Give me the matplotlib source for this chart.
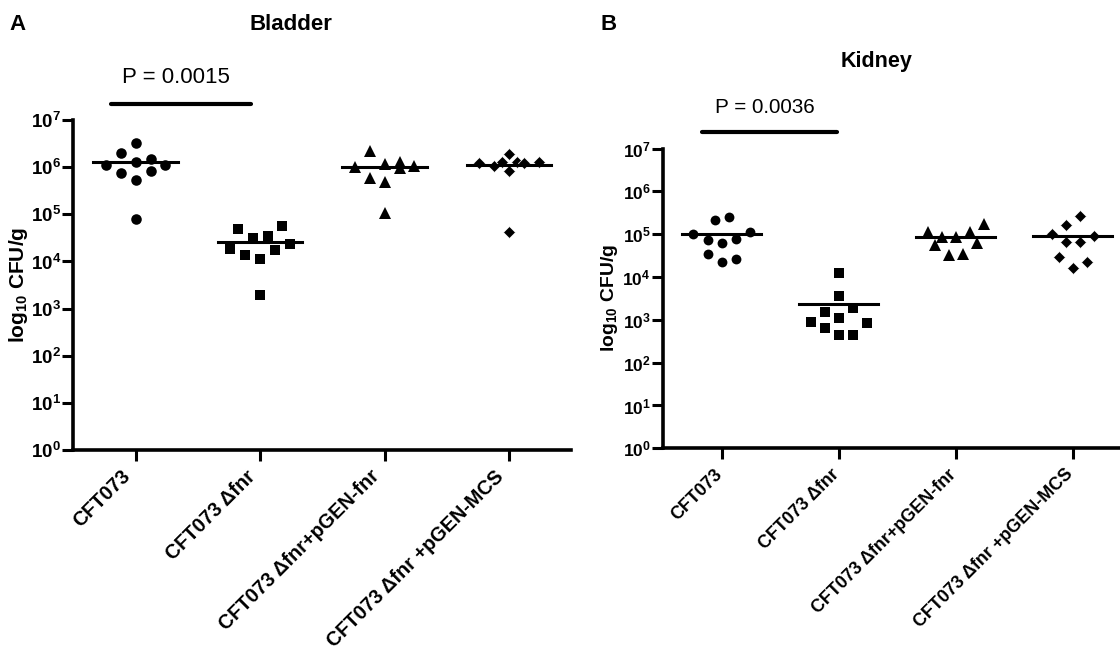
import matplotlib
matplotlib.use('Agg')
import matplotlib.pyplot as plt
import numpy as np

plt.rcParams['font.family'] = ['Liberation Sans', 'DejaVu Sans']
plt.rcParams['mathtext.fontset'] = 'custom'
plt.rcParams['mathtext.rm'] = 'Liberation Sans'
plt.rcParams['mathtext.bf'] = 'Liberation Sans:bold'

groups = ['CFT073', 'CFT073 \u0394fnr', 'CFT073 \u0394fnr+pGEN-fnr', 'CFT073 \u0394fnr +pGEN-MCS']
markers = ['o', 's', '^', 'D']
marker_sizes = [7.6, 7.4, 8.6, 6.6]

# Bladder (CFU/g) and horizontal spread of each point
bladder_wt = [3.2e6, 2.0e6, 1.1e6, 1.26e6, 1.47e6, 1.1e6, 7.7e5, 8.4e5, 5.3e5, 7.9e4]
bladder_wt_dx = [0, -0.12, -0.24, 0, 0.12, 0.24, -0.12, 0.12, 0, 0]
bladder_fnr = [1.84e4, 4.9e4, 1.37e4, 3.1e4, 1.12e4, 3.5e4, 1.74e4, 5.7e4, 2.35e4, 1.95e3]
bladder_fnr_dx = [-0.24, -0.18, -0.12, -0.06, 0, 0.06, 0.12, 0.18, 0.24, 0]
bladder_comp = [2.24e6, 1.02e6, 1.17e6, 1.31e6, 9.4e5, 1.06e6, 6.0e5, 4.9e5, 1.05e5]
bladder_comp_dx = [-0.12, -0.24, 0, 0.12, 0.12, 0.24, -0.12, 0, 0]
bladder_mcs = [1.2e6, 1.05e6, 1.3e6, 1.9e6, 1.3e6, 1.2e6, 1.3e6, 8.4e5, 4.3e4]
bladder_mcs_dx = [-0.24, -0.12, -0.06, 0, 0.06, 0.12, 0.24, 0, 0]
bladder_median = [1.26e6, 2.6e4, 1.02e6, 1.12e6]

# Kidney (CFU/g)
kidney_wt = [2.2e5, 2.55e5, 1.0e5, 1.14e5, 7.5e4, 6.3e4, 7.9e4, 3.4e4, 2.7e4, 2.3e4]
kidney_wt_dx = [-0.06, 0.06, -0.24, 0.24, -0.12, 0, 0.12, -0.12, 0.12, 0]
kidney_fnr = [1.26e4, 3.6e3, 1.55e3, 1.85e3, 9.0e2, 1.08e3, 8.6e2, 6.3e2, 4.4e2, 4.4e2]
kidney_fnr_dx = [0, 0, -0.12, 0.12, -0.24, 0, 0.24, -0.12, 0, 0.12]
kidney_comp = [1.14e5, 8.7e4, 8.4e4, 1.14e5, 1.72e5, 5.6e4, 6.3e4, 3.3e4, 3.4e4]
kidney_comp_dx = [-0.24, -0.12, 0, 0.12, 0.24, -0.18, 0.18, -0.06, 0.06]
kidney_mcs = [2.6e5, 1.62e5, 1.0e5, 9.0e4, 6.6e4, 6.6e4, 2.95e4, 2.3e4, 1.64e4]
kidney_mcs_dx = [0.06, -0.06, -0.18, 0.18, -0.06, 0.06, -0.12, 0.12, 0]
kidney_median = [9.9e4, 2.4e3, 8.7e4, 9.2e4]

bladder_sets = [(bladder_wt, bladder_wt_dx), (bladder_fnr, bladder_fnr_dx),
                (bladder_comp, bladder_comp_dx), (bladder_mcs, bladder_mcs_dx)]
kidney_sets = [(kidney_wt, kidney_wt_dx), (kidney_fnr, kidney_fnr_dx),
               (kidney_comp, kidney_comp_dx), (kidney_mcs, kidney_mcs_dx)]


def draw_panel(ax, sets, medians, p_text, bar_x, bar_y, text_y, fs, xfs, label_x, lab_dx):
    for i, (vals, dx) in enumerate(sets):
        x = i + 1 + np.array(dx)
        if markers[i] == 'D':
            ec, ew = 'white', 0.5
        else:
            ec, ew = 'black', 0
        ax.plot(x, vals, linestyle='none', marker=markers[i], color='black',
                markersize=marker_sizes[i] * fs, markeredgecolor=ec,
                markeredgewidth=ew, zorder=3)
        ax.plot([i + 1 - 0.34, i + 1 + 0.34], [medians[i], medians[i]],
                color='black', lw=2.2, zorder=4)
    ax.set_yscale('log')
    ax.set_ylim(1, 1e7)
    ax.set_xlim(0.5, 4.5)
    ax.set_yticks([10.0 ** k for k in range(8)])
    ax.set_yticklabels([r'$\mathbf{10^{%d}}$' % k for k in range(8)], fontsize=13.5 * fs)
    ax.yaxis.set_minor_locator(matplotlib.ticker.NullLocator())
    ax.set_xticks(range(1, 5))
    ax.set_xticklabels([])
    # rotated group names, right end tucked just under each tick
    for i, g in enumerate(groups):
        ax.annotate(g, xy=(i + 1, 0), xycoords=('data', 'axes fraction'),
                    xytext=(lab_dx, -23.5), textcoords='offset pixels',
                    rotation=45, ha='right', va='center', rotation_mode='anchor',
                    fontsize=xfs, fontweight='bold', annotation_clip=False)
    ax.tick_params(axis='both', direction='out', length=8, width=2.2)
    ax.tick_params(axis='y', pad=1)
    for s in ['top', 'right']:
        ax.spines[s].set_visible(False)
    for s in ['left', 'bottom']:
        ax.spines[s].set_linewidth(2.6)
    ax.set_ylabel(r'log$_{\mathbf{10}}$ CFU/g', fontsize=15 * fs, fontweight='bold')
    ax.yaxis.set_label_coords(label_x, 0.5)
    ax.plot(bar_x, [bar_y, bar_y], color='black', lw=3, clip_on=False,
            solid_capstyle='round')
    ax.text(np.mean(bar_x) - 0.04, text_y, p_text, ha='center', va='center',
            fontsize=16 * fs)


fig = plt.figure(figsize=(11.2, 6.56), dpi=100)
ax1 = fig.add_axes([0.0655, 0.314, 0.4446, 0.503])
ax2 = fig.add_axes([0.592, 0.3166, 0.418, 0.457])

draw_panel(ax1, bladder_sets, bladder_median, 'P = 0.0015', [0.8, 1.93], 2.2e7, 7.8e7,
           1.0, 14.3, -0.087, -8)
draw_panel(ax2, kidney_sets, kidney_median, 'P = 0.0036', [0.83, 1.99], 2.4e7, 9.3e7,
           0.93, 12.9, -0.092, -2)

fig.text(18 / 1120, 1 - 25 / 656, 'A', fontsize=16, fontweight='bold', ha='center', va='center')
fig.text(609 / 1120, 1 - 25 / 656, 'B', fontsize=16, fontweight='bold', ha='center', va='center')
fig.text(291 / 1120, 1 - 24 / 656, 'Bladder', fontsize=16, fontweight='bold', ha='center', va='center')
fig.text(877 / 1120, 1 - 62 / 656, 'Kidney', fontsize=15.5, fontweight='bold', ha='center', va='center')

fig.savefig('out.png', dpi=100)
